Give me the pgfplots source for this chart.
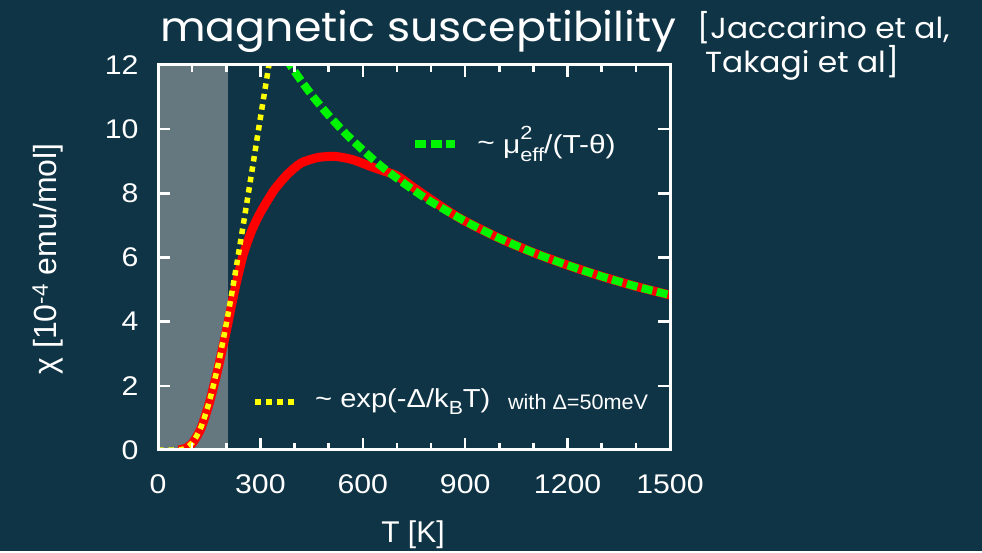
\documentclass[border=0pt]{standalone}
\usepackage{pgfplots}
\pgfplotsset{compat=1.18}
\usepackage{fontspec}
\setmainfont{Liberation Sans}
\newfontfamily\titlefont{Poppins}
\definecolor{bg}{RGB}{15,52,70}
\definecolor{shade}{RGB}{101,120,128}
\definecolor{gr}{RGB}{0,245,0}
\definecolor{ye}{RGB}{255,255,0}
\begin{document}
\begin{tikzpicture}[x=1pt,y=1pt]
\fill[bg] (0,0) rectangle (982,551);
\begin{axis}[
  name=ax,
  at={(158pt,101pt)}, anchor=south west,
  scale only axis, width=512pt, height=385pt,
  xmin=0, xmax=1500, ymin=0, ymax=12,
  xtick={0,300,...,1500},
  minor xtick={100,200,400,500,700,800,1000,1100,1300,1400},
  ytick={0,2,...,12},
  axis line style={draw=white, line width=3pt},
  tick style={draw=white, line width=2.5pt},
  major tick length=12pt, minor tick length=7pt,
  tick align=inside,
  ticklabel style={white, font=\fontsize{27}{30}\selectfont},
  /pgf/number format/assume math mode=true,
  /pgf/number format/1000 sep={},
  xticklabel={\scalebox{1.12}[1]{\pgfmathprintnumber{\tick}}},
  yticklabel={\scalebox{1.12}[1]{\pgfmathprintnumber{\tick}}},
  xticklabel style={yshift=-21pt},
  yticklabel style={xshift=-16pt},
  axis on top,
]
\addplot[fill=shade, draw=none] coordinates {(0,0) (205,0) (205,12) (0,12)} \closedcycle;
\addplot[red, line width=9pt, line join=round, smooth, tension=0.4] coordinates {
(60,0) (80,0.05) (100,0.2) (125,0.65) (150,1.45) (175,2.5) (200,3.7) (225,5.0)
(250,6.1) (275,6.85) (300,7.4) (340,8.1) (380,8.6) (420,8.95) (470,9.12) (520,9.15)
(570,9.05) (620,8.85) (660,8.7) (700,8.55) (740,8.25) (780,7.95) (850,7.45) (900,7.13)
(1000,6.6) (1100,6.15) (1200,5.76) (1300,5.41) (1400,5.10) (1500,4.83)};
\addplot[gr, line width=8pt, dash pattern=on 11pt off 4.5pt, smooth] coordinates {
(375,12.2) (400,11.80) (450,11.07) (500,10.43) (550,9.86) (600,9.35) (650,8.88)
(700,8.47) (750,8.09) (800,7.74) (900,7.13) (1000,6.60) (1100,6.15) (1200,5.76)
(1300,5.41) (1400,5.10) (1500,4.83)};
\addplot[ye, line width=5.5pt, dash pattern=on 5.5pt off 5pt, smooth] coordinates {
(0,0) (50,0.001) (75,0.03) (100,0.22) (125,0.69) (150,1.50) (175,2.60) (200,3.93)
(225,5.43) (250,7.03) (275,8.68) (300,10.35) (325,12.0) (335,12.66)};
% legend samples
\draw[gr, line width=8pt, dash pattern=on 11pt off 4.5pt] (axis cs:753,9.54) -- (axis cs:870,9.54);
\node[anchor=west, white, font=\fontsize{26}{30}\selectfont, inner sep=0pt] at (axis cs:935,9.54)
  {\scalebox{1.15}[1]{\raisebox{2pt}{\char"007E} μ\rlap{\raisebox{0.55em}{\fontsize{19}{20}\selectfont 2}}\raisebox{-0.28em}{\fontsize{19}{20}\selectfont eff}/(T-θ)}};
\draw[ye, line width=6pt, dash pattern=on 6pt off 5pt] (axis cs:284,1.5) -- (axis cs:399,1.5);
\node[anchor=west, white, font=\fontsize{26}{30}\selectfont, inner sep=0pt] at (axis cs:460,1.5)
  {\scalebox{1.12}[1]{\char"007E{} exp(-Δ/k\raisebox{-0.28em}{\fontsize{19}{20}\selectfont B}T)}};
\node[anchor=west, white, font=\fontsize{21}{22}\selectfont, inner sep=0pt] at (axis cs:1025,1.5)
  {\scalebox{1.03}[1]{with Δ=50meV}};
\end{axis}
\fill[white] (156.5,99.5) rectangle (671.5,102.5);
\fill[white] (156.5,484.5) rectangle (671.5,487.5);
\fill[white] (156.5,99.5) rectangle (159.5,487.5);
\fill[white] (668.5,99.5) rectangle (671.5,487.5);
\node[white, font=\fontsize{30}{32}\selectfont] at (413,16) {T [K]};
\node[white, font=\fontsize{32}{34}\selectfont, rotate=90] at (48,292) {χ [10\textsuperscript{-4} emu/mol]};
\node[white, anchor=base west, inner sep=0pt, font=\titlefont\fontsize{41}{44}\selectfont] at (160,509) {\scalebox{1.08}[1]{magnetic susceptibility}};
\node[white, anchor=base west, inner sep=0pt, font=\titlefont\fontsize{29}{32}\selectfont] at (697,512) {\scalebox{1.08}[1]{[Jaccarino et al,}};
\node[white, anchor=base west, inner sep=0pt, font=\titlefont\fontsize{29}{32}\selectfont] at (705,478) {\scalebox{1.08}[1]{Takagi et al]}};
\end{tikzpicture}
\end{document}
